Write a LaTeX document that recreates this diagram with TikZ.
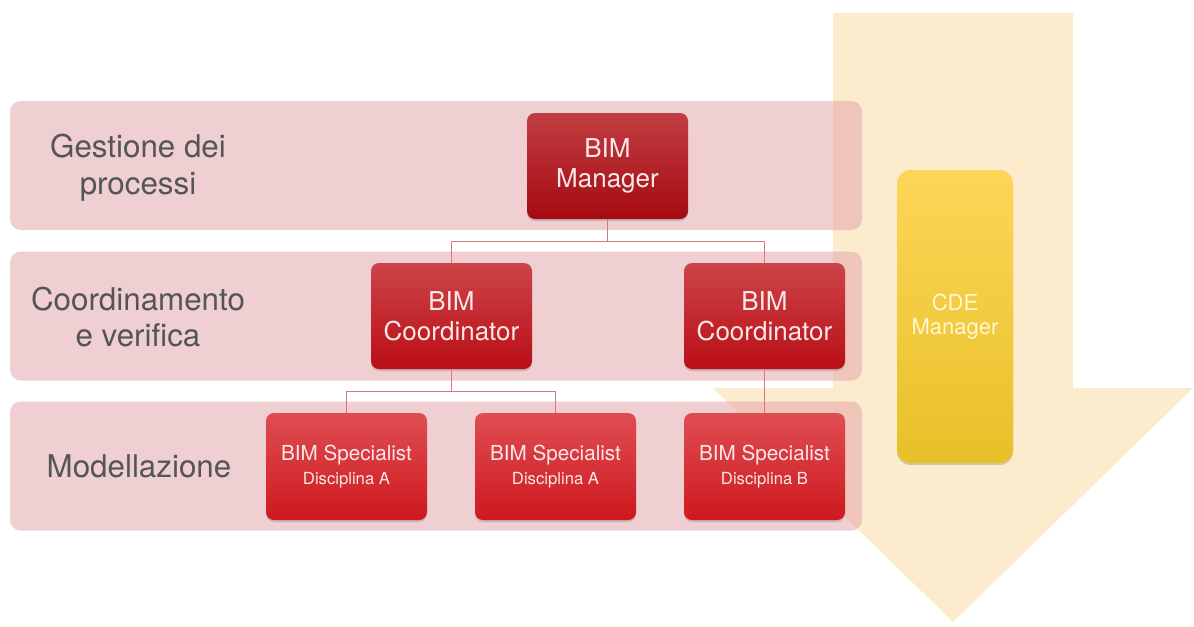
\documentclass[tikz,border=0pt]{standalone}
\usepackage{fontspec}
\setmainfont{TeX Gyre Heros}
\usetikzlibrary{shadows}

\definecolor{arrowfill}{RGB}{253,235,205}
\definecolor{bandfill}{RGB}{224,160,165}
\definecolor{labelgrey}{RGB}{85,85,85}
\definecolor{linkred}{RGB}{214,120,126}
\definecolor{boxtext}{RGB}{250,232,232}
\definecolor{cdetext}{RGB}{255,246,210}

\tikzset{
  band/.style={rectangle, rounded corners=8pt, fill=bandfill, fill opacity=0.5,
    draw=none, minimum width=852*0.75pt, minimum height=129*0.75pt, inner sep=0pt},
  lvl/.style={text=labelgrey, align=center, font=\fontsize{23.5}{27.5}\selectfont},
  rolebox/.style={rectangle, rounded corners=6pt, draw=none, inner sep=0pt,
    minimum width=161*0.75pt, minimum height=106*0.75pt, align=center,
    text=boxtext,
    drop shadow={shadow xshift=0pt, shadow yshift=-1.5pt, opacity=0.35}},
  topbox/.style={rolebox, font=\fontsize{19.5}{22.5}\selectfont,
    top color={rgb,255:red,192;green,62;blue,66},
    middle color={rgb,255:red,180;green,22;blue,30},
    bottom color={rgb,255:red,165;green,10;blue,18}},
  midbox/.style={rolebox, font=\fontsize{19.5}{22.5}\selectfont,
    top color={rgb,255:red,204;green,68;blue,72},
    middle color={rgb,255:red,196;green,26;blue,33},
    bottom color={rgb,255:red,186;green,14;blue,22}},
  lowbox/.style={rolebox, minimum height=107*0.75pt,
    top color={rgb,255:red,222;green,78;blue,82},
    middle color={rgb,255:red,216;green,36;blue,42},
    bottom color={rgb,255:red,206;green,24;blue,30}},
  cdebox/.style={rectangle, rounded corners=10pt, draw=none, inner sep=0pt,
    minimum width=116*0.75pt, minimum height=293*0.75pt, align=center,
    text=cdetext, font=\fontsize{16.5}{18}\selectfont,
    top color={rgb,255:red,253;green,214;blue,88},
    middle color={rgb,255:red,253;green,212;blue,62},
    bottom color={rgb,255:red,232;green,192;blue,40},
    drop shadow={shadow xshift=0pt, shadow yshift=-1.5pt, opacity=0.35}},
  link/.style={draw=linkred, line width=0.8pt},
}

\newcommand{\spec}[1]{{\fontsize{15.5}{18}\selectfont BIM Specialist}\\[4pt]{\fontsize{12.5}{15}\selectfont #1}}

\begin{document}
\begin{tikzpicture}[x=0.75pt, y=-0.75pt]
  \useasboundingbox (0,0) rectangle (1194,626);

  % large downward arrow in the background
  \fill[arrowfill] (833,13) -- (1073,13) -- (1073,388) -- (1193,388)
    -- (953,622) -- (713,388) -- (833,388) -- cycle;

  % level bands
  \node[band] (b1) at (436,165.5) {};
  \node[band] (b2) at (436,316) {};
  \node[band] (b3) at (436,466) {};

  % level labels
  \node[lvl] (l1) at (138,168) {Gestione dei\\processi};
  \node[lvl] (l2) at (138,317) {Coordinamento\\e verifica};
  \node[lvl] (l3) at (139,466) {Modellazione};

  % role boxes
  \node[topbox] (mgr) at (607.5,166) {BIM\\Manager};
  \node[midbox] (coA) at (451.5,316) {BIM\\Coordinator};
  \node[midbox] (coB) at (764.5,316) {BIM\\Coordinator};
  \node[lowbox] (spA1) at (346.5,466.5) {\spec{Disciplina A}};
  \node[lowbox] (spA2) at (555.5,466.5) {\spec{Disciplina A}};
  \node[lowbox] (spB) at (764.5,466.5) {\spec{Disciplina B}};

  % hierarchy links
  \draw[link] (mgr.south) -- ++(0,22) -| (coA.north);
  \draw[link] (mgr.south) -- ++(0,22) -| (coB.north);
  \draw[link] (coA.south) -- ++(0,22) -| (spA1.north);
  \draw[link] (coA.south) -- ++(0,22) -| (spA2.north);
  \draw[link] (coB.south) -- (spB.north);

  % CDE manager
  \node[cdebox] (cde) at (955,316.5) {CDE\\Manager};
\end{tikzpicture}
\end{document}
